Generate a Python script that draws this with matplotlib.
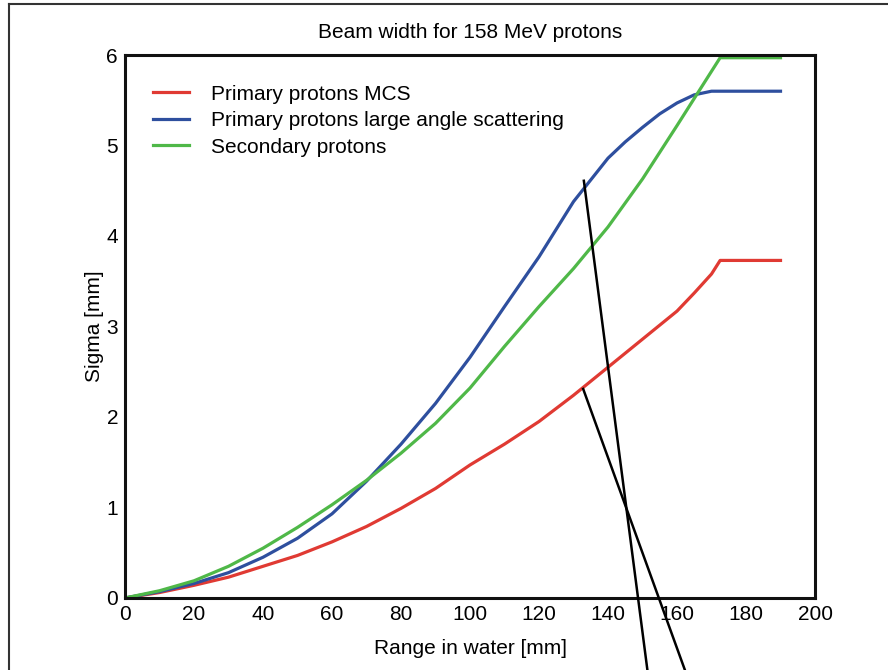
import numpy as np
import matplotlib
matplotlib.use("Agg")
import matplotlib.pyplot as plt
from matplotlib.lines import Line2D

plt.rcParams['font.family'] = ['Liberation Sans', 'DejaVu Sans']

# --- data ---
depth_mcs = [0, 10, 20, 30, 40, 50, 60, 70, 80, 90, 100, 110, 120, 130, 140, 150, 160, 165, 170, 172.5, 180, 190]
sigma_mcs = [0, 0.06, 0.14, 0.23, 0.35, 0.47, 0.62, 0.79, 0.99, 1.21, 1.47, 1.70, 1.95, 2.24, 2.55,
             2.86, 3.17, 3.37, 3.58, 3.73, 3.73, 3.73]

depth_large = [0, 10, 20, 30, 40, 50, 60, 70, 80, 90, 100, 110, 120, 130, 140, 145, 150, 155, 160, 165, 170, 180, 190]
sigma_large = [0, 0.07, 0.16, 0.28, 0.45, 0.66, 0.93, 1.29, 1.70, 2.15, 2.66, 3.22, 3.77, 4.38, 4.86,
               5.04, 5.20, 5.35, 5.47, 5.56, 5.60, 5.60, 5.60]

depth_sec = [0, 10, 20, 30, 40, 50, 60, 70, 80, 90, 100, 110, 120, 130, 140, 150, 160, 165, 170, 172.5, 180, 190]
sigma_sec = [0, 0.08, 0.19, 0.35, 0.55, 0.78, 1.03, 1.30, 1.60, 1.93, 2.32, 2.78, 3.22, 3.64, 4.10,
             4.63, 5.22, 5.52, 5.82, 5.97, 5.97, 5.97]

# two pointer lines running off the bottom of the page
pointer_a = ([133, 151.6], [4.61, -0.85])
pointer_b = ([132.8, 162.8], [2.31, -0.85])

x_ticks = [0, 20, 40, 60, 80, 100, 120, 140, 160, 180, 200]
y_ticks = [0, 1, 2, 3, 4, 5, 6]

fig = plt.figure(figsize=(8.88, 6.70), dpi=100)
ax = fig.add_axes([0.1408, 0.1075, 0.777, 0.8104])

ax.plot(depth_mcs, sigma_mcs, color='#e03a33', lw=2.3, label='Primary protons MCS')
ax.plot(depth_large, sigma_large, color='#2e4f9e', lw=2.3, label='Primary protons large angle scattering')
ax.plot(depth_sec, sigma_sec, color='#4fb848', lw=2.3, label='Secondary protons')

for xs, ys in (pointer_a, pointer_b):
    ax.plot(xs, ys, color='black', lw=1.8, clip_on=False, zorder=5)

ax.set_xlim(0, 200)
ax.set_ylim(0, 6)
ax.set_xticks(x_ticks)
ax.set_yticks(y_ticks)
ax.tick_params(length=0, labelsize=15, pad=5)
for s in ax.spines.values():
    s.set_linewidth(2.2)
    s.set_color('#111111')

ax.set_title('Beam width for 158 MeV protons', fontsize=15, pad=12)
ax.set_xlabel('Range in water [mm]', fontsize=15, labelpad=11)
ax.set_ylabel('Sigma [mm]', fontsize=15, labelpad=2)

leg = ax.legend(loc='upper left', frameon=False, fontsize=15, handlelength=1.75,
                handletextpad=1.05, labelspacing=0.36, bbox_to_anchor=(0.013, 0.98))

# page border (left and top edges only are visible)
fig.add_artist(Line2D([9 / 888, 9 / 888], [0, 1 - 4 / 670], color='#333333', lw=1.5))
fig.add_artist(Line2D([9 / 888, 1], [1 - 4 / 670, 1 - 4 / 670], color='#333333', lw=1.5))

fig.savefig('out.png', dpi=100)
